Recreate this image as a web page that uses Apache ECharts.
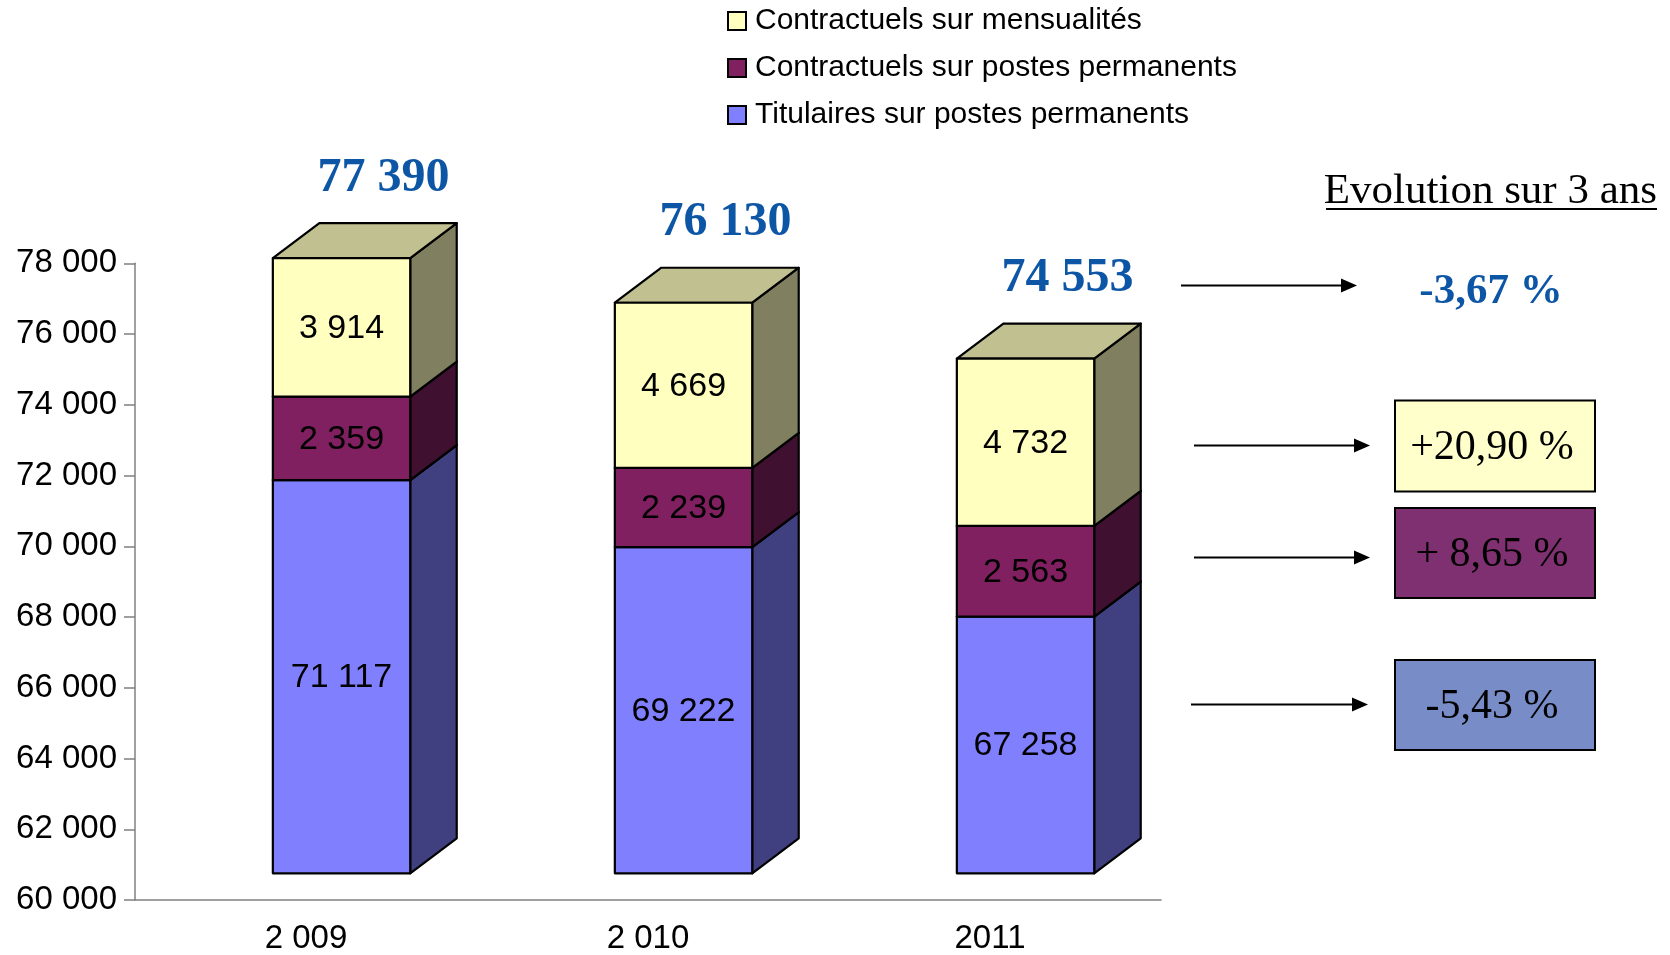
<!DOCTYPE html>
<html>
<head>
<meta charset="utf-8">
<script src="https://cdn.jsdelivr.net/npm/echarts@6/dist/echarts.min.js"></script>
<style>
  html, body { margin: 0; padding: 0; background: #fff; }
  #chart { width: 1670px; height: 955px; }
</style>
</head>
<body>
<div id="chart"></div>
<script>
// ---- Data ----
const categories = ['2 009', '2 010', '2011'];
const titulaires = [71117, 69222, 67258];
const contractuelsPermanents = [2359, 2239, 2563];
const contractuelsMensualites = [3914, 4669, 4732];
const totals = [77390, 76130, 74553];
const seriesNames = ['Titulaires sur postes permanents', 'Contractuels sur postes permanents', 'Contractuels sur mensualités'];
const legendOrder = ['Contractuels sur mensualités', 'Contractuels sur postes permanents', 'Titulaires sur postes permanents'];
const yMin = 60000, yMax = 78000, yInterval = 2000;
const evolutionTitle = 'Evolution sur 3 ans';
const evolutionTotal = '-3,67 %';
const evolutionBySeries = ['+20,90 %', '+ 8,65 %', '-5,43 %']; // mensualités, perm, titulaires

// ---- Styles ----
const SANS = '"Liberation Sans", Arial, sans-serif';
const SERIF = '"Liberation Serif", "Times New Roman", serif';
const BLUE_TXT = '#0D56A6';
const palette = [
  { front: '#8080FF', side: '#404080', top: '#6060C0' },
  { front: '#802060', side: '#401030', top: '#601848' },
  { front: '#FFFFC0', side: '#808060', top: '#C0C090' }
];
const DEPTH_X = 46.5, DEPTH_Y = 35, Y_SHIFT = -26.7;
const BAR_W = 0.4017, BAR_OFF = 0.1039;

function fmt(v) { return String(v).replace(/\B(?=(\d{3})+(?!\d))/g, ' '); }

const stacks = [titulaires, contractuelsPermanents, contractuelsMensualites];
function buildData(si) {
  return categories.map((c, i) => {
    let base = 0;
    for (let k = 0; k < si; k++) base += stacks[k][i];
    return [i, base, base + stacks[si][i], stacks[si][i], totals[i]];
  });
}

function makeRender(si) {
  const col = palette[si];
  const isTop = si === stacks.length - 1;
  return function (params, api) {
    const cat = api.value(0), base = api.value(1), top = api.value(2), val = api.value(3);
    const band = api.size([1, 0])[0];
    const ct = api.coord([cat, top]);
    const cb = api.coord([cat, Math.max(base, yMin)]);
    const w = band * BAR_W;
    const cx = ct[0] + band * BAR_OFF;
    const x0 = cx - w / 2, x1 = cx + w / 2;
    const yT = ct[1] + Y_SHIFT, yB = cb[1] + Y_SHIFT;
    const stroke = { stroke: '#000', lineWidth: 2.2, lineJoin: 'round' };
    const children = [
      { type: 'polygon', shape: { points: [[x1, yB], [x1 + DEPTH_X, yB - DEPTH_Y], [x1 + DEPTH_X, yT - DEPTH_Y], [x1, yT]] },
        style: Object.assign({ fill: col.side }, stroke) },
      { type: 'polygon', shape: { points: [[x0, yT], [x0 + DEPTH_X, yT - DEPTH_Y], [x1 + DEPTH_X, yT - DEPTH_Y], [x1, yT]] },
        style: Object.assign({ fill: col.top }, stroke) },
      { type: 'rect', shape: { x: x0, y: yT, width: w, height: yB - yT },
        style: Object.assign({ fill: col.front }, stroke) },
      { type: 'text', style: { text: fmt(val), x: cx, y: (yT + yB) / 2 + 1, align: 'center', verticalAlign: 'middle',
        fill: '#000', fontSize: 34, fontFamily: SANS } }
    ];
    if (isTop) {
      children.push({ type: 'text', style: { text: fmt(api.value(4)), x: cx + 42, y: yT - 80, align: 'center', verticalAlign: 'middle',
        fill: BLUE_TXT, fontSize: 48, fontWeight: 'bold', fontFamily: SERIF } });
    }
    return { type: 'group', children: children };
  };
}

const series = stacks.map((s, si) => ({
  type: 'custom',
  name: seriesNames[si],
  renderItem: makeRender(si),
  encode: { x: 0, y: 2 },
  itemStyle: { color: palette[si].front },
  clip: false,
  data: buildData(si)
}));

// Right-side annotation graphics
function arrow(xa, xb, y) {
  return [
    { type: 'line', shape: { x1: xa, y1: y, x2: xb - 14, y2: y }, style: { stroke: '#000', lineWidth: 2 } },
    { type: 'polygon', shape: { points: [[xb - 16, y - 7], [xb, y], [xb - 16, y + 7]] }, style: { fill: '#000' } }
  ];
}
function box(y, h, fill, text) {
  return [
    { type: 'rect', shape: { x: 1395, y: y, width: 200, height: h }, style: { fill: fill, stroke: '#000', lineWidth: 2 } },
    { type: 'text', style: { text: text, x: 1492, y: y + h / 2 + 2, align: 'center', verticalAlign: 'middle', fill: '#000',
      fontSize: 42, fontFamily: SERIF } }
  ];
}
const graphics = [].concat(
  [{ type: 'text', style: { text: evolutionTitle, x: 1657, y: 192, align: 'right', verticalAlign: 'middle', fill: '#000',
      fontSize: 43, fontFamily: SERIF } },
   { type: 'line', shape: { x1: 1326, y1: 209, x2: 1657, y2: 209 }, style: { stroke: '#000', lineWidth: 2 } },
   { type: 'text', style: { text: evolutionTotal, x: 1491, y: 292, align: 'center', verticalAlign: 'middle', fill: BLUE_TXT,
      fontSize: 43, fontWeight: 'bold', fontFamily: SERIF } }],
  arrow(1181, 1357, 285.5),
  arrow(1194, 1370, 445.5),
  arrow(1194, 1370, 557.5),
  arrow(1191, 1368, 704.5),
  box(400.5, 91, '#FFFFCC', evolutionBySeries[0]),
  box(508, 90, '#7F3070', evolutionBySeries[1]),
  box(660, 90, '#788CC8', evolutionBySeries[2])
);

const chart = echarts.init(document.getElementById('chart'), null, { renderer: 'canvas' });
chart.setOption({
  animation: false,
  backgroundColor: '#fff',
  grid: { left: 135, right: 509, top: 263.3, bottom: 55 },
  legend: {
    data: legendOrder,
    orient: 'vertical',
    left: 722, top: 1,
    icon: 'rect',
    itemWidth: 18, itemHeight: 18,
    itemGap: 17,
    itemStyle: { borderColor: '#000', borderWidth: 2 },
    textStyle: { fontSize: 30, fontFamily: SANS, color: '#000', lineHeight: 30, padding: [0, 0, 0, 4] },
    selectedMode: false
  },
  xAxis: {
    type: 'category',
    data: categories,
    boundaryGap: true,
    axisLine: { lineStyle: { color: '#808080', width: 1.5 } },
    axisTick: { length: 11, lineStyle: { color: '#808080', width: 1.5 } },
    axisLabel: { fontSize: 33, fontFamily: SANS, color: '#000', margin: 22 }
  },
  yAxis: {
    type: 'value',
    min: yMin, max: yMax, interval: yInterval,
    splitLine: { show: false },
    axisLine: { show: true, lineStyle: { color: '#808080', width: 1.5 } },
    axisTick: { show: true, length: 11, lineStyle: { color: '#808080', width: 1.5 } },
    axisLabel: { fontSize: 33, fontFamily: SANS, color: '#000', margin: 18, formatter: v => fmt(v) }
  },
  series: series,
  graphic: graphics
});
</script>
</body>
</html>
